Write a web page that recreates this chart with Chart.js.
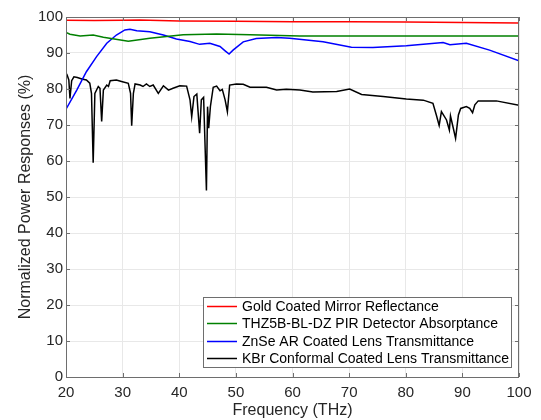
<!DOCTYPE html>
<html>
<head>
<meta charset="utf-8">
<script src="https://cdn.jsdelivr.net/npm/chart.js@4"></script>
<style>
  html, body { margin: 0; padding: 0; background: #fff; }
  #wrap { width: 541px; height: 420px; }
</style>
</head>
<body>
<div id="wrap"><canvas id="chart" width="541" height="420"></canvas></div>
<script>
// values
const goldX = [20, 25, 30, 33, 40, 50, 60, 70, 80, 90, 100];
const goldY = [99.1, 99.0, 99.1, 99.2, 98.9, 98.8, 98.7, 98.7, 98.6, 98.5, 98.3];

const thzX = [20, 20.7, 22.5, 24.8, 26.6, 31, 34.8, 40.7, 46.6, 52.5, 61.3, 70, 80, 90, 100];
const thzY = [95.7, 95.2, 94.7, 95.0, 94.4, 93.3, 94.1, 95.1, 95.3, 95.1, 94.7, 94.7, 94.7, 94.7, 94.7];

const znseX = [20, 21.9, 23.6, 25.4, 27.2, 28.9, 30.4, 31.3, 32.5, 34.8, 37.2, 39.5, 41.9, 43.6, 45.4, 47.2, 48.1, 48.8, 49.5, 51.3, 53.6, 57.2, 59.5, 65.4, 70.4, 74.2, 80.1, 86.6, 87.8, 90.7, 94.8, 100];
const znseY = [74.4, 79.7, 84.8, 89.0, 92.7, 95.0, 96.4, 96.6, 96.2, 95.9, 95.0, 93.9, 93.2, 92.4, 92.7, 91.8, 90.6, 89.7, 90.8, 93.1, 94.0, 94.3, 94.1, 93.1, 91.6, 91.5, 92.0, 92.9, 92.3, 92.7, 90.8, 87.8];

const kbrX = [20, 20.2, 20.5, 20.7, 21, 21.4, 22, 22.8, 23.6, 24.2, 24.5, 24.8, 25.1, 25.7, 26, 26.3, 26.6, 27.2, 27.5, 27.8, 28.9, 29.8, 31, 31.4, 31.6, 31.9, 32.2, 33.1, 33.6, 34.2, 34.8, 35.4, 36.3, 37.2, 38.1, 38.9, 40.1, 41.3, 41.9, 42.2, 42.6, 43.1, 43.6, 43.9, 44.3, 44.8, 45.0, 45.2, 45.5, 46, 46.6, 47.2, 47.6, 48.1, 48.5, 48.9, 50.1, 51.3, 52.5, 55.4, 57.2, 58.9, 61.3, 63.6, 67.8, 70.1, 72.2, 76, 80.1, 83.1, 84.8, 85.4, 85.9, 86.3, 87.2, 87.7, 87.9, 88.4, 88.8, 89.3, 89.7, 90.7, 91.3, 91.8, 92.2, 92.8, 96, 100];
const kbrY = [84.5, 83.9, 82.5, 77.4, 82.3, 83.4, 83.2, 82.8, 82.5, 81.6, 78.8, 59.5, 78.8, 80.7, 80.2, 71.0, 79.7, 81.1, 80.7, 82.3, 82.5, 82.1, 81.6, 78.8, 69.8, 78.8, 81.4, 81.1, 80.7, 81.4, 80.7, 81.1, 78.8, 80.9, 79.7, 80.2, 80.9, 80.8, 77.0, 72.3, 77.9, 78.6, 67.7, 77.0, 77.7, 51.8, 75.1, 69.1, 75.1, 80.5, 80.8, 79.5, 79.9, 77.0, 73.7, 81.1, 81.4, 81.3, 80.5, 80.5, 79.7, 79.9, 79.7, 79.2, 79.3, 80.0, 78.5, 77.9, 77.2, 76.9, 76.0, 72.8, 69.9, 73.7, 71.4, 68.6, 72.5, 69.1, 66.3, 72.8, 74.6, 75.1, 74.6, 73.4, 75.6, 76.7, 76.7, 75.5];

const seriesNames = [
  'Gold Coated Mirror Reflectance',
  'THZ5B-BL-DZ PIR Detector Absorptance',
  'ZnSe AR Coated Lens Transmittance',
  'KBr Conformal Coated Lens Transmittance'
];
const xTicks = [20, 30, 40, 50, 60, 70, 80, 90, 100];
const yTicks = [0, 10, 20, 30, 40, 50, 60, 70, 80, 90, 100];

const colors = ['#ff0000', '#008000', '#0000ff', '#000000'];
const pts = (xs, ys) => xs.map((x, i) => ({ x: x, y: ys[i] }));
const FONT = '"Liberation Sans", Arial, Helvetica, sans-serif';
const TEXT = '#262626';
const EDGE = '#6e6e6e';

// box around the plot + MATLAB style inward ticks
const boxPlugin = {
  id: 'box',
  afterDatasetsDraw(chart) {
    const { ctx, chartArea: a, scales } = chart;
    ctx.save();
    ctx.strokeStyle = EDGE;
    ctx.lineWidth = 1;
    ctx.strokeRect(a.left + 0.5, a.top + 0.5, a.right - a.left - 1, a.bottom - a.top);
    ctx.beginPath();
    xTicks.forEach(v => {
      const px = Math.round(scales.x.getPixelForValue(v)) + 0.5;
      ctx.moveTo(px, a.bottom); ctx.lineTo(px, a.bottom - 4);
      ctx.moveTo(px, a.top); ctx.lineTo(px, a.top + 4);
    });
    yTicks.forEach(v => {
      const py = Math.round(scales.y.getPixelForValue(v)) + 0.5;
      ctx.moveTo(a.left, py); ctx.lineTo(a.left + 4, py);
      ctx.moveTo(a.right, py); ctx.lineTo(a.right - 4, py);
    });
    ctx.stroke();
    ctx.restore();
  }
};

// legend box drawn inside the plot, lower right
const legendPlugin = {
  id: 'insideLegend',
  afterDraw(chart) {
    const { ctx, chartArea: a } = chart;
    const w = 308, h = 70;
    const x0 = a.right - 8 - w, y0 = a.bottom - 10 - h;
    ctx.save();
    ctx.fillStyle = '#fff';
    ctx.fillRect(x0, y0, w, h);
    ctx.strokeStyle = EDGE;
    ctx.lineWidth = 1;
    ctx.strokeRect(x0 + 0.5, y0 + 0.5, w, h);
    ctx.font = '14px ' + FONT;
    ctx.textBaseline = 'middle';
    seriesNames.forEach((name, i) => {
      const y = Math.round(y0 + 9 + i * 17.3) + 0.5;
      ctx.strokeStyle = colors[i];
      ctx.lineWidth = 1.5;
      ctx.beginPath();
      ctx.moveTo(x0 + 4, y); ctx.lineTo(x0 + 34, y);
      ctx.stroke();
      ctx.fillStyle = '#000';
      ctx.fillText(name, x0 + 39, y + 0.5);
    });
    ctx.restore();
  }
};

new Chart(document.getElementById('chart'), {
  type: 'line',
  data: {
    datasets: [
      { label: seriesNames[0], data: pts(goldX, goldY) },
      { label: seriesNames[1], data: pts(thzX, thzY) },
      { label: seriesNames[2], data: pts(znseX, znseY) },
      { label: seriesNames[3], data: pts(kbrX, kbrY) }
    ].map((d, i) => Object.assign(d, {
      borderColor: colors[i],
      borderWidth: 1.5,
      pointRadius: 0,
      tension: 0,
      fill: false
    }))
  },
  options: {
    responsive: false,
    animation: false,
    layout: { padding: { top: 17, right: 22, left: 0, bottom: 0 } },
    plugins: { legend: { display: false }, tooltip: { enabled: false } },
    scales: {
      x: {
        type: 'linear', min: 20, max: 100,
        afterBuildTicks: s => { s.ticks = xTicks.map(v => ({ value: v })); },
        afterFit: s => { s.height = 43; },
        grid: { color: '#e8e8e8', drawTicks: false },
        border: { display: false },
        ticks: { color: TEXT, font: { family: FONT, size: 15 }, padding: 7, maxRotation: 0 },
        title: { display: true, text: 'Frequency (THz)', color: TEXT, font: { family: FONT, size: 16 }, padding: { top: 0, bottom: 0 } }
      },
      y: {
        min: 0, max: 100,
        afterBuildTicks: s => { s.ticks = yTicks.map(v => ({ value: v })); },
        afterFit: s => { s.width = 66; },
        grid: { color: '#e8e8e8', drawTicks: false },
        border: { display: false },
        ticks: { color: TEXT, font: { family: FONT, size: 15 }, padding: 3 },
        title: { display: true, text: 'Normalized Power Responses (%)', color: TEXT, font: { family: FONT, size: 16 }, padding: { top: 16, bottom: 0 } }
      }
    }
  },
  plugins: [boxPlugin, legendPlugin]
});
</script>
</body>
</html>
